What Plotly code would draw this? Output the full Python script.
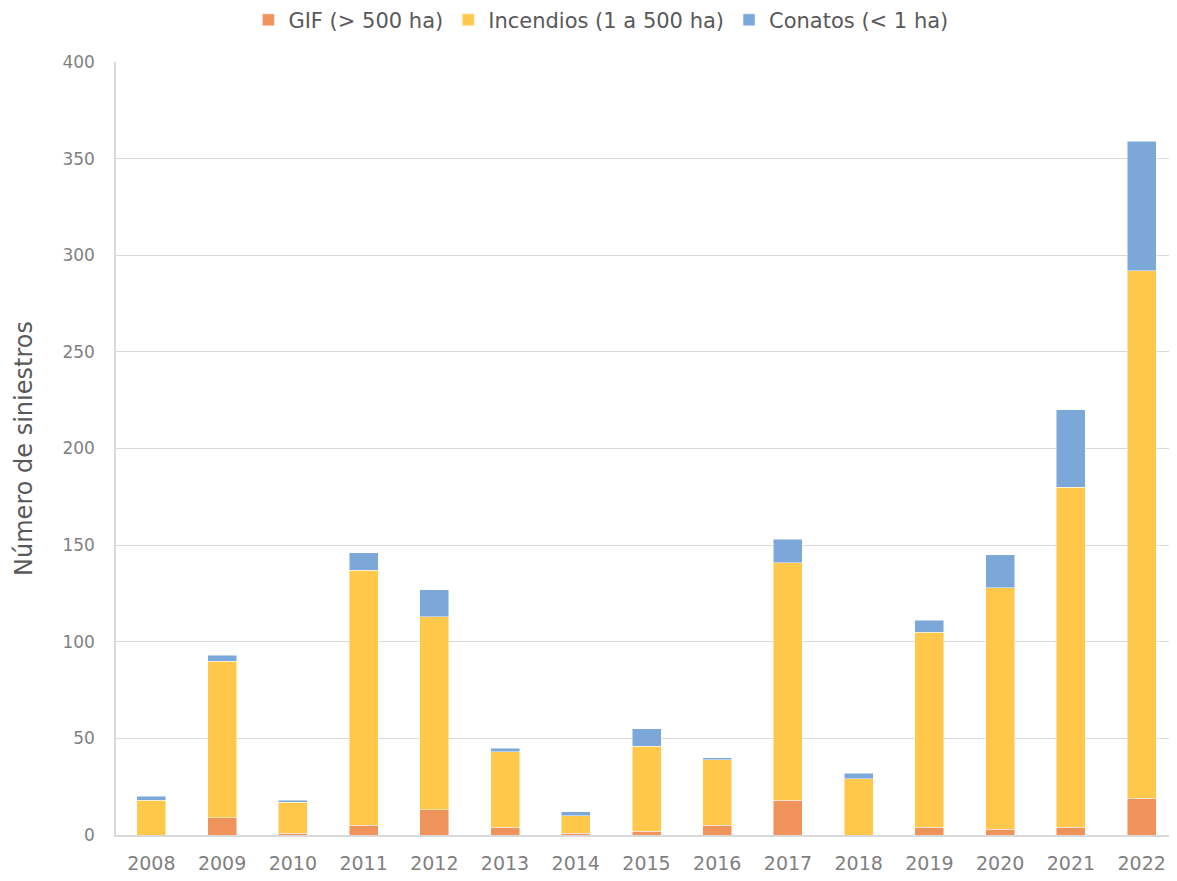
import plotly.graph_objects as go

years = ["2008", "2009", "2010", "2011", "2012", "2013", "2014", "2015",
         "2016", "2017", "2018", "2019", "2020", "2021", "2022"]
gif = [0, 9, 1, 5, 13, 4, 1, 2, 5, 18, 0, 4, 3, 4, 19]
incendios = [18, 81, 16, 132, 100, 39, 9, 44, 34, 123, 29, 101, 125, 176, 273]
conatos = [2, 3, 1, 9, 14, 2, 2, 9, 1, 12, 3, 6, 17, 40, 67]

series_names = ["GIF (> 500 ha)", "Incendios (1 a 500 ha)", "Conatos (< 1 ha)"]
colors = ["#F0935A", "#FFC84B", "#7BA8D8"]

fig = go.Figure()
for name, vals, col in zip(series_names, [gif, incendios, conatos], colors):
    fig.add_trace(go.Bar(x=years, y=vals, name=name,
                         marker=dict(color=col, line=dict(width=0.8, color="rgba(255,255,255,0.6)"))))

font_family = "'DejaVu Sans', sans-serif"
fig.update_layout(
    barmode="stack",
    bargap=0.59,
    width=1169, height=873,
    margin=dict(l=108, r=0, t=54, b=46),
    plot_bgcolor="white", paper_bgcolor="white",
    font=dict(family=font_family, color="#595959"),
    legend=dict(orientation="h", x=0.457, xanchor="center", y=0.986, yanchor="middle",
                yref="container", font=dict(size=21, color="#595959"),
                itemwidth=30, traceorder="normal", tracegroupgap=0),
    showlegend=True,
)
fig.update_xaxes(showline=True, linecolor="#d9d9d9", linewidth=1.5, ticks="",
                 tickfont=dict(size=19, color="#7f7f7f"), showgrid=False,
                 ticklabelstandoff=10)
fig.update_yaxes(range=[0, 400], dtick=50, showgrid=True, gridcolor="#d9d9d9", gridwidth=1,
                 showline=True, linecolor="#d9d9d9", linewidth=1.5, zeroline=False,
                 tickfont=dict(size=17, color="#7f7f7f"), ticks="", ticklabelstandoff=16,
                 title=dict(text="Número de siniestros", font=dict(size=24, color="#595959"), standoff=23))

fig.write_html("out.html")
